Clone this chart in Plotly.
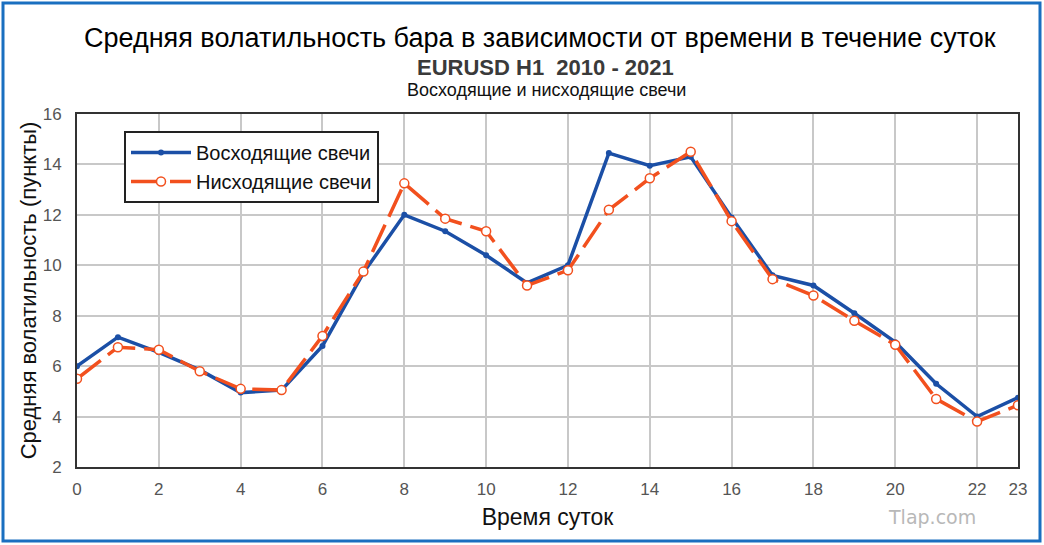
import plotly.graph_objects as go

hours = list(range(24))
rising = [6.0, 7.15, 6.55, 5.85, 4.95, 5.05, 6.8, 9.7, 12.0, 11.35, 10.4, 9.3,
          10.0, 14.45, 13.95, 14.3, 11.9, 9.6, 9.2, 8.1, 6.95, 5.3, 4.0, 4.75]
falling = [5.5, 6.75, 6.65, 5.8, 5.1, 5.05, 7.2, 9.75, 13.25, 11.85, 11.35, 9.2,
           9.8, 12.2, 13.45, 14.5, 11.75, 9.45, 8.8, 7.8, 6.85, 4.7, 3.8, 4.45]
x_ticks = [0, 2, 4, 6, 8, 10, 12, 14, 16, 18, 20, 22, 23]
y_ticks = [2, 4, 6, 8, 10, 12, 14, 16]

title_main = "Средняя волатильность бара в зависимости от времени в течение суток"
title_sub = "EURUSD H1  2010 - 2021"
title_sub2 = "Восходящие и нисходящие свечи"
name_rise = "Восходящие свечи"
name_fall = "Нисходящие свечи"

BLUE = "#1b4fa6"
ORANGE = "#f2501e"
FONT = "Liberation Sans, Arial, sans-serif"

fig = go.Figure()
fig.add_trace(go.Scatter(
    x=hours, y=rising, name=name_rise, mode="lines+markers",
    line=dict(color=BLUE, width=3.5),
    marker=dict(color=BLUE, size=6),
))
fig.add_trace(go.Scatter(
    x=hours, y=falling, name=name_fall, mode="lines+markers",
    line=dict(color=ORANGE, width=3.5, dash="30px,9px"),
    marker=dict(color="white", size=9, line=dict(color=ORANGE, width=1.5)),
))

L, R, T, B = 77, 26, 114, 78
W, H = 1044, 545
pw, ph = W - L - R, H - T - B

def px(xp):
    return (xp - L) / pw

def py(yp):
    return (H - B - yp) / ph

def ann(text, x, y, size, color, family=FONT):
    return dict(text=text, x=px(x), y=py(y), xref="paper", yref="paper",
                xanchor="center", yanchor="middle", showarrow=False,
                font=dict(family=family, size=size, color=color))

fig.update_layout(
    width=W, height=H,
    margin=dict(l=L, r=R, t=T, b=B),
    paper_bgcolor="white", plot_bgcolor="white",
    font=dict(family=FONT, color="#555555"),
    showlegend=True,
    legend=dict(
        x=px(124), y=py(131), xanchor="left", yanchor="top",
        bgcolor="white", bordercolor="#222222", borderwidth=2,
        font=dict(family=FONT, size=20, color="#111111"),
        itemwidth=60, tracegroupgap=0,
    ),
    xaxis=dict(
        range=[0, 23], tickvals=x_ticks, ticktext=[str(v) for v in x_ticks],
        showgrid=True, gridcolor="#c8c8c8", gridwidth=2,
        showline=True, linecolor="#333333", linewidth=2, mirror=True,
        ticks="", ticklabelstandoff=6, tickfont=dict(size=17, color="#555555"), zeroline=False,
        title=dict(text="Время суток", font=dict(size=23, color="#111111"), standoff=10),
    ),
    yaxis=dict(
        range=[2, 16], tickvals=y_ticks,
        showgrid=True, gridcolor="#c8c8c8", gridwidth=2,
        showline=True, linecolor="#333333", linewidth=2, mirror=True,
        ticks="", ticklabelstandoff=10, tickfont=dict(size=17, color="#555555"), zeroline=False,
        title=dict(text="Средняя волатильность (пункты)", font=dict(size=22, color="#111111"), standoff=0),
    ),
    annotations=[
        ann(title_main, 540, 38, 27, "#000000"),
        ann("<b>" + title_sub + "</b>", 545, 67, 22, "#3a3a3a"),
        ann(title_sub2, 546, 90, 18, "#111111"),
        ann("Tlap.com", 932, 517, 19, "#b8b8b8", "DejaVu Sans"),
    ],
    shapes=[
        dict(type="rect", xref="paper", yref="paper",
             x0=px(3), x1=px(1040), y0=py(541), y1=py(3),
             line=dict(color="#1a6fc0", width=3), fillcolor="rgba(0,0,0,0)", layer="below"),
    ],
)

fig.write_html("out.html")
